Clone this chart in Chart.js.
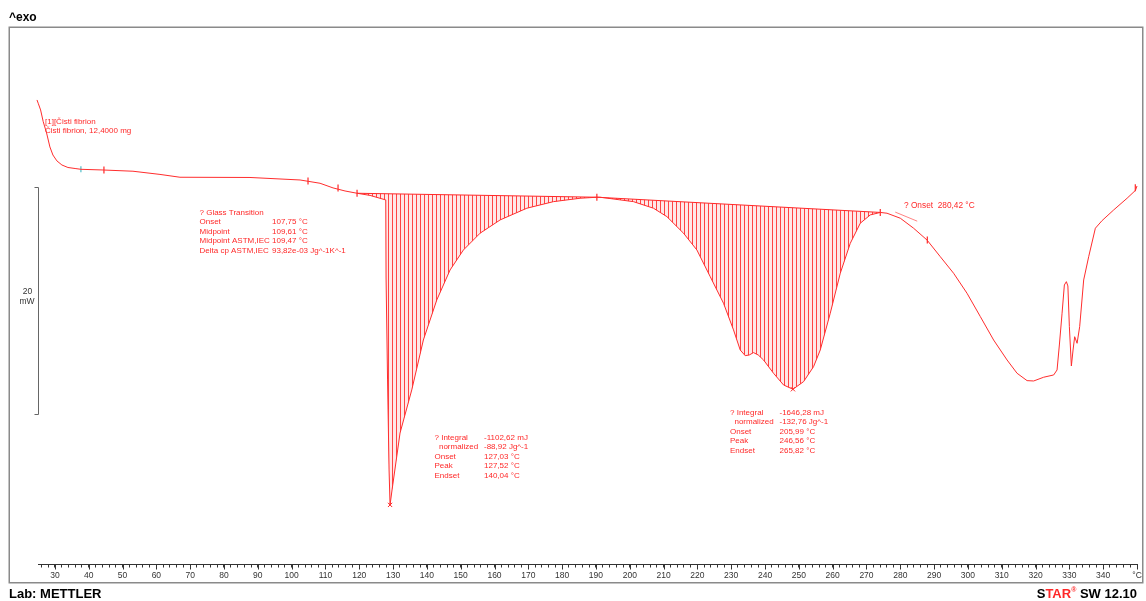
<!DOCTYPE html>
<html><head><meta charset="utf-8">
<script src="https://cdn.jsdelivr.net/npm/chart.js@4.4.1/dist/chart.umd.min.js"></script>
<style>html,body{margin:0;padding:0;background:#fff;}canvas{display:block;}</style>
</head><body>
<canvas id="c" width="1146" height="601"></canvas>
<script>
// ---- data (temperature in °C, heat flow in mW) ----
const tempC = [24.7,25.06,25.77,26.54,27.54,28.52,29.41,30.59,32.07,33.85,36.21,37.69,44.2,53.08,61.07,66.98,87.69,102.49,108.4,112.25,115.8,119.35,123.2,127.84,127.93,128.37,128.82,129.11,129.7,132.07,135.53,138.96,142.93,146.86,150.8,155.74,161.66,169.56,177.43,185.33,190.27,191.24,201.09,207.01,210.98,215.89,219.85,223.79,227.72,230.68,232.66,234.14,235.33,236.6,237.99,239.56,242.51,245.47,248.25,251.39,254.35,256.33,259.29,262.25,265.21,268.17,271.12,274.08,276.07,280.01,283.93,287.9,291.83,295.77,299.73,303.67,307.6,311.57,314.53,317.49,319.44,322.4,325.36,326.36,327.04,327.84,328.52,329.11,329.56,330,330.59,331.09,331.57,332.28,333.05,334.23,335.71,337.69,339.67,343.11,347.07,349.53,350];
const heatFlow = [7.93,7.64,7.05,6.02,5.02,3.79,3.08,2.56,2.2,1.98,1.88,1.82,1.76,1.65,1.37,1.12,1.1,0.88,0.59,0.18,-0.09,-0.29,-0.48,-0.88,-7.67,-16.74,-24.67,-27.75,-26.43,-21.41,-17.62,-13.22,-9.69,-7.05,-5.29,-3.81,-2.64,-1.61,-1.03,-0.73,-0.64,-0.64,-1.03,-1.61,-2.35,-3.81,-5.29,-7.64,-9.98,-12.33,-14.1,-14.6,-14.54,-14.33,-14.54,-14.98,-16.15,-17.18,-17.56,-16.89,-15.57,-14.1,-10.86,-7.34,-4.7,-2.93,-2.2,-1.98,-2.05,-2.49,-3.37,-4.41,-5.88,-7.34,-9.1,-11.16,-13.22,-14.98,-16.15,-16.8,-16.83,-16.5,-16.3,-15.86,-13.66,-10.86,-8.37,-8.08,-8.46,-12.04,-15.51,-14.1,-12.93,-13.51,-12.04,-7.93,-5.88,-3.37,-2.7,-1.76,-0.73,-0.04,0.35];

const peak1BaseT = [119.35, 190.27];
const peak1BaseP = [-0.29, -0.64];
const peak2BaseT = [190.27, 274.08];
const peak2BaseP = [-0.64, -1.98];

const onsetTangentT = [278.5, 285.0];
const onsetTangentP = [-1.95, -2.75];

const markerT = [44.5, 104.85, 113.73, 119.35, 190.27, 274.08, 287.99, 349.5];
const markerP = [1.76, 0.79, 0.18, -0.29, -0.64, -1.98, -4.41, 0.2];
const cyanMarkerT = [37.69];
const cyanMarkerP = [1.82];
const peakT = [129.11, 248.25];
const peakP = [-27.75, -17.56];

const tickLabels = [30,40,50,60,70,80,90,100,110,120,130,140,150,160,170,180,190,200,210,220,230,240,250,260,270,280,290,300,310,320,330,340];
const axisUnit = '°C';
const axisMin = 25, axisMax = 350, minorStep = 2;
const yMin = -33.0, yMax = 14.27;
const scaleBarTop = 0.26, scaleBarSpan = 20;

// ---- texts ----
const headerText = '^exo';
const sampleLines = ['[1][Čisti fibrion', 'Čisti fibrion, 12,4000 mg'];
const glassLabels = ['? Glass Transition','Onset','Midpoint','Midpoint ASTM,IEC','Delta cp ASTM,IEC'];
const glassValues = ['','107,75 °C','109,61 °C','109,47 °C','93,82e-03 Jg^-1K^-1'];
const peak1Labels = ['? Integral','  normalized','Onset','Peak','Endset'];
const peak1Values = ['-1102,62 mJ','-88,92 Jg^-1','127,03 °C','127,52 °C','140,04 °C'];
const peak2Labels = ['? Integral','  normalized','Onset','Peak','Endset'];
const peak2Values = ['-1646,28 mJ','-132,76 Jg^-1','205,99 °C','246,56 °C','265,82 °C'];
const onsetText = '? Onset  280,42 °C';

// ---- styles / layout ----
const RED = 'rgb(255,40,40)';
const FONT = '"Liberation Sans", Arial, sans-serif';
const layoutPos = {
  sample: {x:45, y:121.5, dy:9.5},
  glass: {x:199.5, vx:272, y:212.5, dy:9.5},
  peak1: {x:434.5, vx:484, y:437.5, dy:9.5},
  peak2: {x:730, vx:779.5, y:412.5, dy:9.5},
  onset: {x:904, y:206}
};

function pts(T, P){ return T.map((t,i)=>({x:t, y:P[i]})); }
function slice(lo, hi){
  const out=[];
  tempC.forEach((t,i)=>{ if(t>=lo-1e-9 && t<=hi+1e-9) out.push({x:t,y:heatFlow[i]}); });
  return out;
}
function hatch(){
  const p=document.createElement('canvas'); p.width=4; p.height=4;
  const g=p.getContext('2d');
  g.fillStyle='rgba(255,110,110,0.16)'; g.fillRect(0,0,4,4);
  g.fillStyle='rgba(255,40,40,0.85)'; g.fillRect(0,0,1,4);
  return g.createPattern(p,'repeat');
}
const pattern = hatch();

const decor = {
  id:'decor',
  beforeDraw(chart){
    const c=chart.ctx; c.save(); c.fillStyle='#fff'; c.fillRect(0,0,chart.width,chart.height); c.restore();
  },
  afterDraw(chart){
    const ctx=chart.ctx, xs=chart.scales.x, ys=chart.scales.y, ca=chart.chartArea;
    ctx.save();
    // frame
    ctx.strokeStyle='#8a8a8a'; ctx.lineWidth=1.5;
    ctx.strokeRect(9.25,27.25,1133.5,555.5);
    // major ticks longer
    ctx.strokeStyle='#333'; ctx.lineWidth=1;
    tickLabels.concat([axisMax]).forEach(v=>{
      const x=Math.round(xs.getPixelForValue(v))+0.5;
      ctx.beginPath(); ctx.moveTo(x,ca.bottom); ctx.lineTo(x,ca.bottom+5); ctx.stroke();
    });
    // scale bar
    const yt=Math.round(ys.getPixelForValue(scaleBarTop))+0.5;
    const yb=Math.round(ys.getPixelForValue(scaleBarTop-scaleBarSpan))+0.5;
    ctx.strokeStyle='#666'; ctx.lineWidth=1;
    ctx.beginPath(); ctx.moveTo(34.5,yt); ctx.lineTo(38.5,yt); ctx.lineTo(38.5,yb); ctx.lineTo(34.5,yb); ctx.stroke();
    ctx.fillStyle='#333'; ctx.font='8.5px '+FONT; ctx.textAlign='center'; ctx.textBaseline='middle';
    const ym=(yt+yb)/2;
    ctx.fillText(String(scaleBarSpan),27.5,ym-9.5); ctx.fillText('mW',27,ym+1);
    // header
    ctx.fillStyle='#000'; ctx.textAlign='left'; ctx.textBaseline='alphabetic';
    ctx.font='bold 12px '+FONT; ctx.fillText(headerText,9,20.5);
    // footer
    ctx.font='bold 13px '+FONT; ctx.fillText('Lab: METTLER',9,598);
    // STAR SW 12.10 right aligned
    const parts=[['S','#000',13],['TAR',RED,13],['®',RED,7],[' SW 12.10','#000',13]];
    let total=0; parts.forEach(p=>{ ctx.font='bold '+p[2]+'px '+FONT; total+=ctx.measureText(p[0]).width; });
    let x=1137-total;
    parts.forEach(p=>{ ctx.font='bold '+p[2]+'px '+FONT; ctx.fillStyle=p[1]; ctx.fillText(p[0],x,p[2]<13?592:598); x+=ctx.measureText(p[0]).width; });
    // red annotations
    ctx.fillStyle=RED; ctx.font='8px '+FONT; ctx.textBaseline='middle'; ctx.textAlign='left';
    const L=layoutPos;
    sampleLines.forEach((s,i)=>ctx.fillText(s,L.sample.x,L.sample.y+i*L.sample.dy));
    function block(labels, values, pos){
      labels.forEach((s,i)=>{ ctx.fillText(s,pos.x,pos.y+i*pos.dy); if(values[i]) ctx.fillText(values[i],pos.vx,pos.y+i*pos.dy); });
    }
    block(glassLabels, glassValues, L.glass);
    block(peak1Labels, peak1Values, L.peak1);
    block(peak2Labels, peak2Values, L.peak2);
    ctx.font='8.3px '+FONT;
    ctx.fillText(onsetText,L.onset.x,L.onset.y);
    ctx.restore();
  }
};

new Chart(document.getElementById('c'), {
  type:'line',
  data:{ datasets:[
    { label:'curve', data:pts(tempC,heatFlow), borderColor:'rgb(255,45,45)', borderWidth:1, pointRadius:0, fill:false, tension:0, clip:false },
    { label:'markers', data:pts(markerT,markerP), showLine:false, pointStyle:'line', rotation:90, pointRadius:3.5, borderColor:RED, borderWidth:1.2 },
    { label:'cyan', data:pts(cyanMarkerT,cyanMarkerP), showLine:false, pointStyle:'line', rotation:90, pointRadius:3, borderColor:'rgb(80,190,200)', borderWidth:1.2 },
    { label:'peaks', data:pts(peakT,peakP), showLine:false, pointStyle:'crossRot', pointRadius:3, borderColor:RED, borderWidth:1 },
    { label:'base1', data:pts(peak1BaseT,peak1BaseP), borderColor:RED, borderWidth:1, pointRadius:0, fill:false, tension:0 },
    { label:'base2', data:pts(peak2BaseT,peak2BaseP), borderColor:RED, borderWidth:1, pointRadius:0, fill:false, tension:0 },
    { label:'area1', data:slice(peak1BaseT[0],peak1BaseT[1]), borderWidth:0, pointRadius:0, tension:0, backgroundColor:pattern, fill:{target:4} },
    { label:'area2', data:slice(peak2BaseT[0],peak2BaseT[1]), borderWidth:0, pointRadius:0, tension:0, backgroundColor:pattern, fill:{target:5} },
    { label:'tangent', data:pts(onsetTangentT,onsetTangentP), borderColor:'rgba(255,60,60,0.8)', borderWidth:0.8, pointRadius:0, fill:false, tension:0 }
  ]},
  options:{
    responsive:false, animation:false, events:[],
    layout:{ padding:{ left:38, right:9, top:28, bottom:6.5 } },
    scales:{
      x:{ type:'linear', min:axisMin, max:axisMax,
        afterFit(s){ s.height=30; },
        afterBuildTicks(s){ const t=[]; for(let v=axisMin+1; v<=axisMax; v+=minorStep) t.push({value:v}); s.ticks=t; },
        ticks:{ autoSkip:false, maxRotation:0, padding:3, color:'#333', font:{family:'"Liberation Sans", Arial, sans-serif', size:8.5},
          callback:(v)=> v===axisMax ? axisUnit : (tickLabels.includes(v) ? String(v) : '') },
        grid:{ drawOnChartArea:false, drawTicks:true, tickLength:3, color:'#333' },
        border:{ display:true, color:'#333', width:1 }
      },
      y:{ display:false, min:yMin, max:yMax }
    },
    plugins:{ legend:{display:false}, tooltip:{enabled:false} }
  },
  plugins:[decor]
});
</script>
</body></html>
